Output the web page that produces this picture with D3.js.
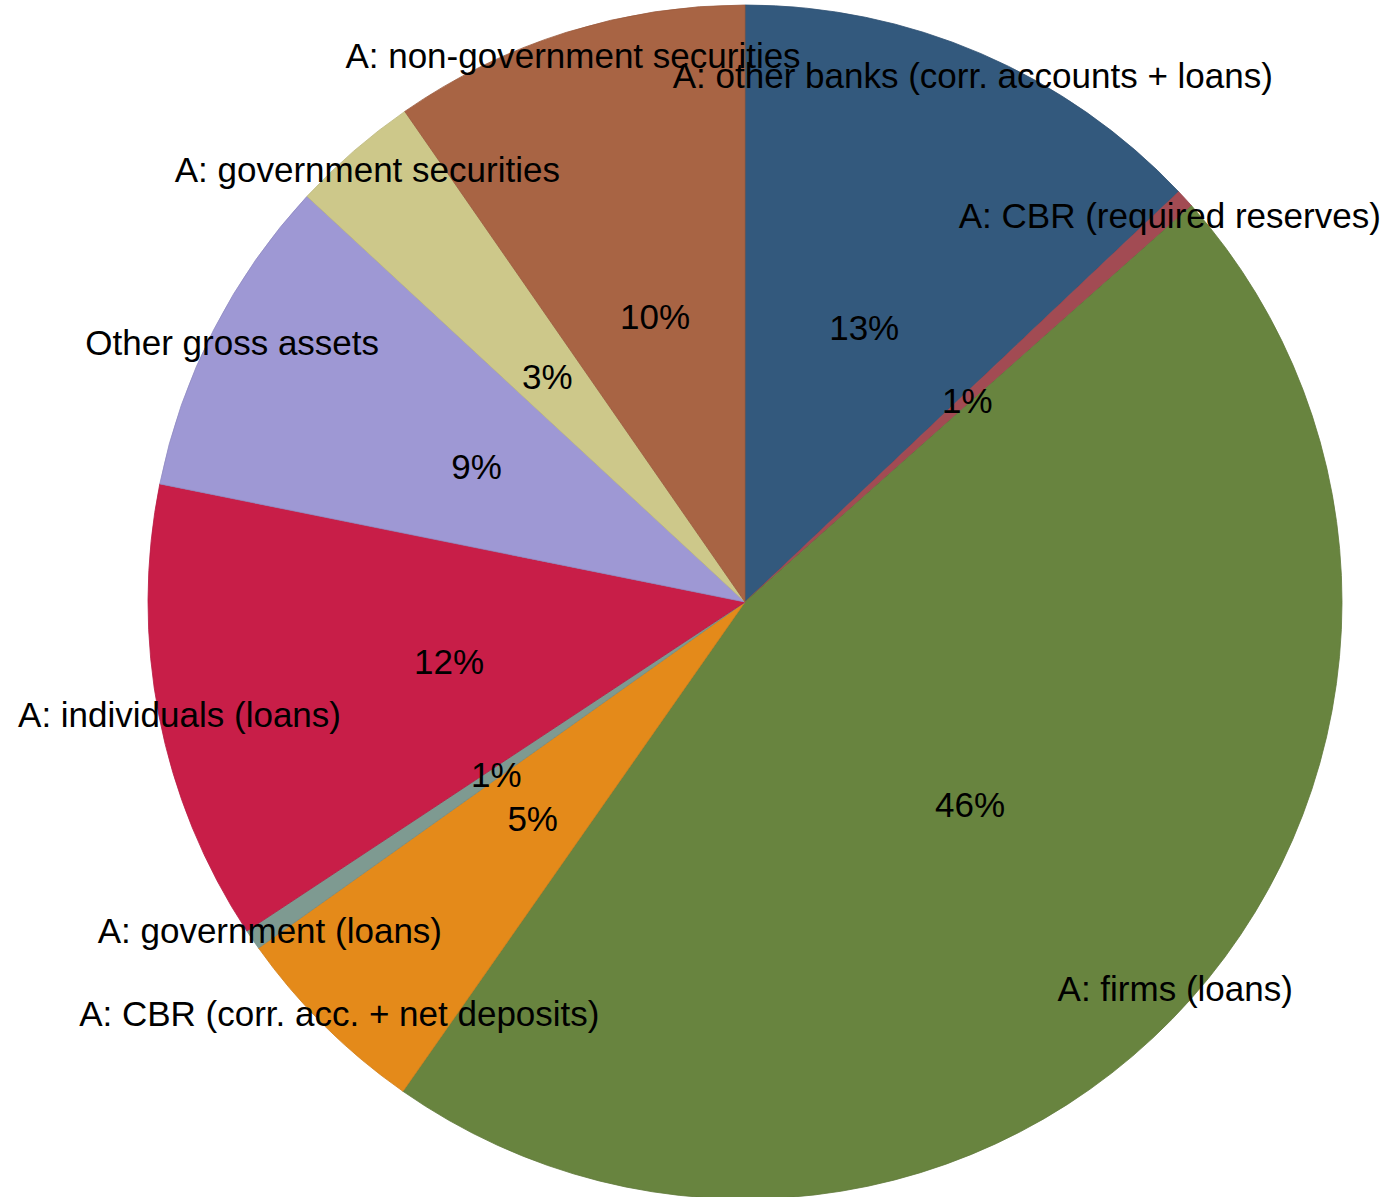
<!DOCTYPE html>
<html>
<head>
<meta charset="utf-8">
<script src="https://cdn.jsdelivr.net/npm/d3@7"></script>
<style>
  html, body { margin: 0; padding: 0; background: #ffffff; }
  svg { display: block; }
  text { font-family: "Liberation Sans", Arial, Helvetica, sans-serif; fill: #000; }
</style>
</head>
<body>
<svg id="chart" width="1389" height="1197"></svg>
<script>
// Bank asset structure, shares of gross assets (%), clockwise from 12 o'clock
const categories = [
  "A: other banks (corr. accounts + loans)",
  "A: CBR (required reserves)",
  "A: firms (loans)",
  "A: CBR (corr. acc. + net deposits)",
  "A: government (loans)",
  "A: individuals (loans)",
  "Other gross assets",
  "A: government securities",
  "A: non-government securities"
];
const shares = [12.94, 0.51, 46.26, 5.45, 0.55, 12.46, 8.72, 3.46, 9.65];
const colors = ["#33597d", "#a24b53", "#68843f", "#e48a1a", "#7e9a91", "#c81e48", "#9e98d4", "#cdc88a", "#a86444"];

const width = 1389, height = 1197;
const cx = 745, cy = 602, radius = 597;

const svg = d3.select("#chart");
const g = svg.append("g").attr("transform", `translate(${cx},${cy})`);

const data = categories.map((name, i) => ({ name, value: shares[i], color: colors[i] }));
const total = d3.sum(shares);

const pie = d3.pie().sort(null).value(d => d.value).startAngle(0).endAngle(2 * Math.PI);
const arcs = pie(data);

const arc = d3.arc().innerRadius(0).outerRadius(radius);
const pctArc = d3.arc().innerRadius(radius * 0.505).outerRadius(radius * 0.505);
const nameArc = d3.arc().innerRadius(radius * 0.965).outerRadius(radius * 0.965);

// slices
g.selectAll("path.slice")
  .data(arcs)
  .join("path")
  .attr("class", "slice")
  .attr("d", arc)
  .attr("fill", d => d.data.color)
  .attr("stroke", d => d3.color(d.data.color).darker(0.25))
  .attr("stroke-width", 0.8);

// percentage labels inside the slices
g.selectAll("text.pct")
  .data(arcs)
  .join("text")
  .attr("class", "pct")
  .attr("transform", d => `translate(${pctArc.centroid(d)})`)
  .attr("text-anchor", "middle")
  .attr("dy", "0.42em")
  .style("font-size", "35px")
  .text(d => Math.round(d.data.value / total * 100) + "%");

// category labels near the rim
g.selectAll("text.name")
  .data(arcs)
  .join("text")
  .attr("class", "name")
  .attr("transform", d => `translate(${nameArc.centroid(d)})`)
  .attr("text-anchor", "middle")
  .attr("dy", "0.44em")
  .style("font-size", "35px")
  .text(d => d.data.name);
</script>
</body>
</html>
